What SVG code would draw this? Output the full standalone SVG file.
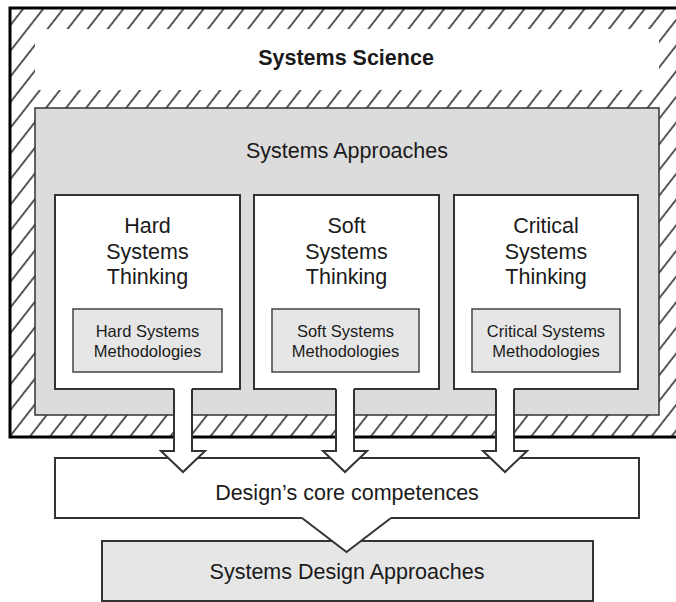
<svg xmlns="http://www.w3.org/2000/svg" width="676" height="602" viewBox="0 0 676 602">
<defs>
<pattern id="hatch" patternUnits="userSpaceOnUse" width="15.8" height="30" patternTransform="rotate(38)">
<line x1="7.9" y1="-5" x2="7.9" y2="35" stroke="#111" stroke-width="1.4"/>
</pattern>
</defs>
<style>
text{font-family:"Liberation Sans",Arial,sans-serif;fill:#1a1a1a;text-anchor:middle}
.big{font-size:21.5px}
.bold{font-weight:bold}
.small{font-size:16.5px}
.box{fill:#fff;stroke:#333;stroke-width:2}
.meth{fill:#e6e6e6;stroke:#444;stroke-width:1.5}
.edge{fill:none;stroke:#333;stroke-width:2;stroke-linejoin:miter}
.cover{fill:#fff;stroke:none}
</style>
<rect width="676" height="602" fill="#fff"/>
<g id="systems-science">
<rect x="10" y="8" width="690" height="429" fill="url(#hatch)" stroke="#000" stroke-width="3"/>
<rect x="35" y="29" width="624" height="61" fill="#fff"/>
<text class="big bold" x="346" y="65">Systems Science</text>
</g>
<g id="systems-approaches">
<rect x="35" y="108" width="624" height="307" fill="#dcdcdc" stroke="#333" stroke-width="1.5"/>
<text class="big" x="347" y="158">Systems Approaches</text>
</g>
<g id="hard-thinking">
<rect class="box" x="55" y="195" width="185" height="194"/>
<text class="big" x="147.5" y="233">Hard</text>
<text class="big" x="147.5" y="259">Systems</text>
<text class="big" x="147.5" y="284">Thinking</text>
</g>
<g id="soft-thinking">
<rect class="box" x="254" y="195" width="185" height="194"/>
<text class="big" x="346.5" y="233">Soft</text>
<text class="big" x="346.5" y="259">Systems</text>
<text class="big" x="346.5" y="284">Thinking</text>
</g>
<g id="critical-thinking">
<rect class="box" x="454" y="195" width="184" height="194"/>
<text class="big" x="546" y="233">Critical</text>
<text class="big" x="546" y="259">Systems</text>
<text class="big" x="546" y="284">Thinking</text>
</g>
<g id="hard-methodologies">
<rect class="meth" x="73" y="309" width="149" height="63"/>
<text class="small" x="147.5" y="337">Hard Systems</text>
<text class="small" x="147.5" y="357">Methodologies</text>
</g>
<g id="soft-methodologies">
<rect class="meth" x="272" y="309" width="147" height="63"/>
<text class="small" x="345.5" y="337">Soft Systems</text>
<text class="small" x="345.5" y="357">Methodologies</text>
</g>
<g id="critical-methodologies">
<rect class="meth" x="472" y="309" width="148" height="63"/>
<text class="small" x="546" y="337">Critical Systems</text>
<text class="small" x="546" y="357">Methodologies</text>
</g>
<g id="systems-design-approaches">
<rect x="102" y="541" width="491" height="60" fill="#e6e6e6" stroke="#333" stroke-width="2"/>
<text class="big" x="347" y="579">Systems Design Approaches</text>
</g>
<g id="core-competences">
<rect class="box" x="55" y="458" width="584" height="60"/>
<text class="big" x="347" y="500">Design’s core competences</text>
</g>
<g id="connectors">
<path class="cover" d="M174,386 V451 H161 L183,472 L205,451 H192 V386 Z"/>
<path class="edge" d="M174,389 V451 H161 L183,472 L205,451 H192 V389"/>
<path class="cover" d="M336,386 V451 H323 L345,472 L367,451 H354 V386 Z"/>
<path class="edge" d="M336,389 V451 H323 L345,472 L367,451 H354 V389"/>
<path class="cover" d="M496,386 V451 H483 L505,472 L527,451 H514 V386 Z"/>
<path class="edge" d="M496,389 V451 H483 L505,472 L527,451 H514 V389"/>
<path class="cover" d="M302,516 L391,516 L391,518 L346.5,552 L302,518 Z"/>
<path class="edge" d="M302,518 L346.5,552 L391,518"/>
</g>
</svg>
